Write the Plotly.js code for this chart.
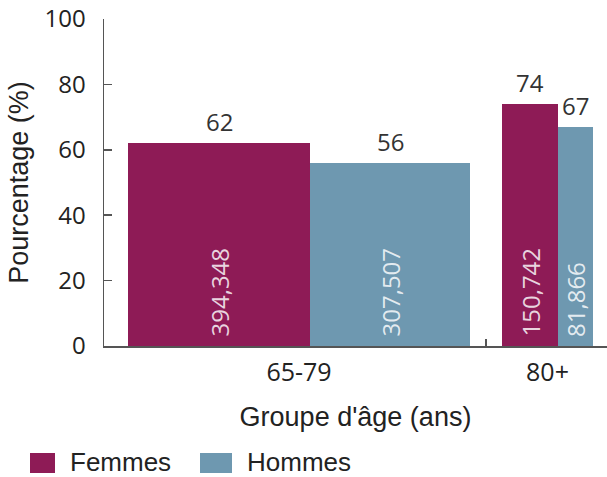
<!DOCTYPE html>
<html>
<head>
<meta charset="utf-8">
<script src="https://cdn.plot.ly/plotly-3.0.1.min.js"></script>
<style>html,body{margin:0;padding:0;background:#fff;}#chart{width:607px;height:477px;}</style>
</head>
<body>
<div id="chart"></div>
<script>
// ---- data ----
const categories = ["65-79", "80+"];
const femmesPct = [62, 74];
const hommesPct = [56, 67];
const femmesN = ["394,348", "150,742"];
const hommesN = ["307,507", "81,866"];
const seriesNames = ["Femmes", "Hommes"];

// ---- layout constants (bar widths in axis units) ----
const femmesW = [182, 56];
const hommesW = [160, 35];
const padLeft = 24, groupGap = 32, xMax = 503;
const colF = "#8e1b56", colH = "#6e98b0";

const fx = [], hx = [], gc = [], seps = [];
let cur = padLeft;
categories.forEach((c, i) => {
  fx.push(cur + femmesW[i] / 2);
  hx.push(cur + femmesW[i] + hommesW[i] / 2);
  gc.push(cur + (femmesW[i] + hommesW[i]) / 2);
  cur += femmesW[i] + hommesW[i];
  if (i < categories.length - 1) { seps.push(cur + groupGap / 2); cur += groupGap; }
});

const traces = [
  {type: "bar", name: seriesNames[0], x: fx, y: femmesPct, width: femmesW,
   marker: {color: colF, line: {width: 0}}, hoverinfo: "none"},
  {type: "bar", name: seriesNames[1], x: hx, y: hommesPct, width: hommesW,
   marker: {color: colH, line: {width: 0}}, hoverinfo: "none"}
];

const annotations = [];
const valFont = {family: "Open Sans", size: 24, color: "#333"};
const inFont = {family: "Open Sans", size: 24, color: "rgba(255,255,255,0.82)"};
[[fx, femmesPct, femmesN], [hx, hommesPct, hommesN]].forEach(([xs, ys, ns]) => {
  xs.forEach((x, i) => {
    annotations.push({x: x, y: ys[i], text: String(ys[i]), showarrow: false,
      xref: "x", yref: "y", yanchor: "bottom", yshift: 3, font: valFont});
    annotations.push({x: x, y: 0, text: ns[i], showarrow: false, textangle: -90,
      xref: "x", yref: "y", yanchor: "bottom", yshift: 7, font: inFont});
  });
});

const layout = {
  width: 607, height: 477,
  margin: {l: 104, r: 0, t: 19, b: 131, autoexpand: false},
  paper_bgcolor: "#fff", plot_bgcolor: "#fff",
  showlegend: true,
  bargap: 0,
  xaxis: {
    range: [0, xMax], tickvals: gc, ticktext: categories, ticks: "",
    showline: true, linecolor: "#555", linewidth: 1.5, showgrid: false, zeroline: false,
    tickfont: {family: "Open Sans", size: 25, color: "#222"}, ticklabelstandoff: 3,
    minor: {tickvals: seps, ticks: "inside", ticklen: 7, tickcolor: "#555", tickwidth: 1.5, showgrid: false},
    title: {text: "Groupe d'âge (ans)", font: {family: "Liberation Sans", size: 27, color: "#222"}, standoff: 20}
  },
  yaxis: {
    range: [0, 100], tickvals: [0, 20, 40, 60, 80, 100], ticks: "inside", ticklen: 8,
    tickcolor: "#555", tickwidth: 1.5,
    showline: true, linecolor: "#555", linewidth: 1.5, showgrid: false, zeroline: false,
    tickfont: {family: "Open Sans", size: 24, color: "#222"}, ticklabelstandoff: 12,
    title: {text: "Pourcentage (%)", font: {family: "Liberation Sans", size: 27, color: "#222"}, standoff: 8}
  },
  legend: {
    orientation: "h", xref: "container", yref: "container",
    x: 30 / 607, xanchor: "left", y: (477 - 461) / 477, yanchor: "middle",
    entrywidth: 132, entrywidthmode: "pixels",
    font: {family: "Liberation Sans", size: 26, color: "#222"},
    bgcolor: "rgba(0,0,0,0)", borderwidth: 0, itemclick: false, itemdoubleclick: false
  },
  annotations: annotations
};

Plotly.newPlot("chart", traces, layout, {staticPlot: true, displayModeBar: false}).then(gd => {
  gd.querySelectorAll(".legend .legendpoints path").forEach(p => {
    p.setAttribute("d", "M-27,-8H5V12H-27Z");
    p.style.strokeWidth = "0";
  });
});
</script>
</body>
</html>
